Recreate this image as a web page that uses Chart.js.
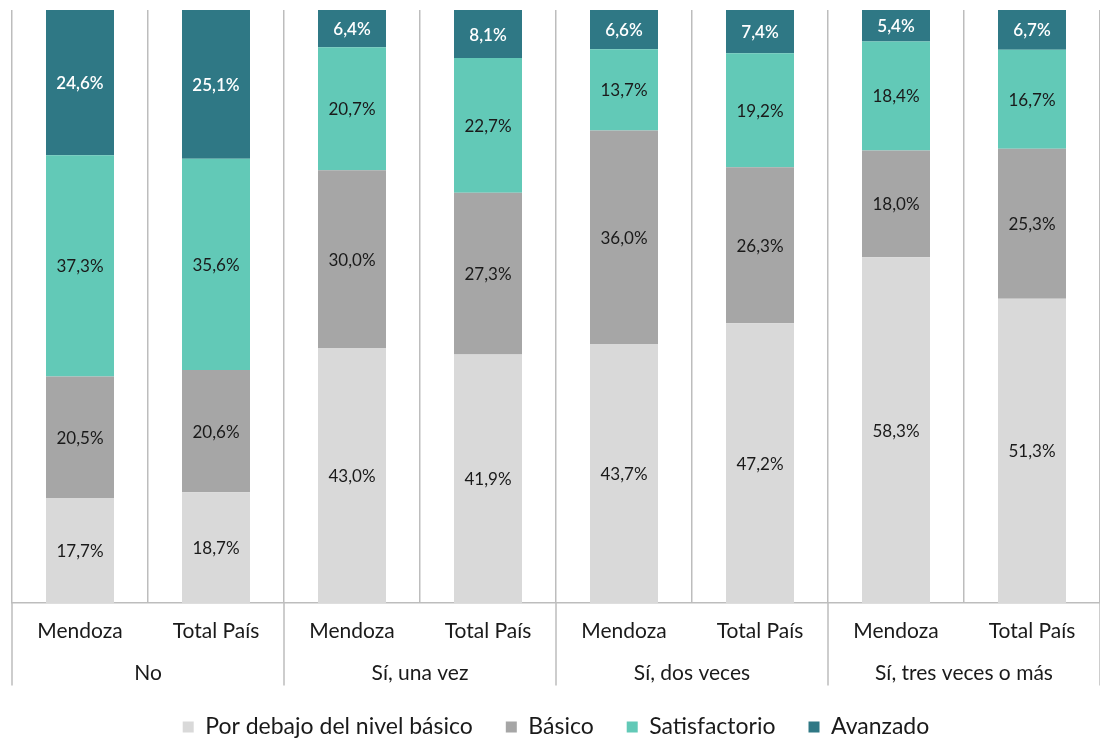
<!DOCTYPE html>
<html>
<head>
<meta charset="utf-8">
<script src="https://cdn.jsdelivr.net/npm/chart.js@4"></script>
<style>
html,body{margin:0;padding:0;background:#fff;}
#wrap{width:1100px;height:738px;}
</style>
</head>
<body>
<div id="wrap"><canvas id="c" width="1100" height="738"></canvas></div>
<script>
const subLabels = ["Mendoza","Total País","Mendoza","Total País","Mendoza","Total País","Mendoza","Total País"];
const groupLabels = ["No","Sí, una vez","Sí, dos veces","Sí, tres veces o más"];
const seriesNames = ["Por debajo del nivel básico","Básico","Satisfactorio","Avanzado"];
const porDebajo = [17.7,18.7,43.0,41.9,43.7,47.2,58.3,51.3];
const basico = [20.5,20.6,30.0,27.3,36.0,26.3,18.0,25.3];
const satisfactorio = [37.3,35.6,20.7,22.7,13.7,19.2,18.4,16.7];
const avanzado = [24.6,25.1,6.4,8.1,6.6,7.4,5.4,6.7];

const colors = ["#d9d9d9","#a6a6a6","#62c9b7","#2f7885"];
const labelColors = ["#1a1a1a","#1a1a1a","#1a1a1a","#ffffff"];
const FONT = "Lato, 'Open Sans', sans-serif";
const AXIS_FONT_SIZE = 21;

const valueLabels = {
  id:'valueLabels',
  afterDatasetsDraw(chart){
    const ctx = chart.ctx;
    ctx.save();
    ctx.textAlign='center';
    ctx.textBaseline='middle';
    chart.data.datasets.forEach((ds,di)=>{
      const meta = chart.getDatasetMeta(di);
      meta.data.forEach((bar,i)=>{
        const v = ds.data[i];
        const y = (bar.y + bar.base)/2;
        ctx.font = (di===3? "600 ":"")+"17px "+FONT;
        ctx.fillStyle = labelColors[di];
        ctx.fillText(v.toFixed(1).replace('.',',')+'%', bar.x, y+1);
      });
    });
    ctx.restore();
  }
};

const groupLines = {
  id:'groupLines',
  afterDraw(chart){
    const xs = chart.scales.x, x2 = chart.scales.x2;
    const ctx = chart.ctx;
    const step = xs.getPixelForValue(1) - xs.getPixelForValue(0);
    const endY = x2.top + AXIS_FONT_SIZE*1.2;
    ctx.save();
    ctx.strokeStyle='#bdbdbd';
    ctx.lineWidth=1.5;
    for(let g=0; g<=groupLabels.length; g++){
      const idx = g*2;
      const px = xs.getPixelForValue(0) + (idx-0.5)*step;
      ctx.beginPath();
      ctx.moveTo(px, chart.chartArea.bottom);
      ctx.lineTo(px, endY);
      ctx.stroke();
    }
    ctx.restore();
  }
};

new Chart(document.getElementById('c'),{
  type:'bar',
  data:{
    labels: subLabels,
    datasets:[
      {label:seriesNames[0], data:porDebajo, backgroundColor:colors[0]},
      {label:seriesNames[1], data:basico, backgroundColor:colors[1]},
      {label:seriesNames[2], data:satisfactorio, backgroundColor:colors[2]},
      {label:seriesNames[3], data:avanzado, backgroundColor:colors[3]}
    ]
  },
  options:{
    responsive:false,
    animation:false,
    maintainAspectRatio:false,
    layout:{padding:{top:10,left:12,right:0,bottom:-10.5}},
    datasets:{bar:{categoryPercentage:1.0, barPercentage:0.5}},
    scales:{
      x:{
        stacked:true,
        offset:true,
        grid:{offset:true, display:true, color:'#bdbdbd', lineWidth:1.5, drawTicks:false},
        border:{display:true, color:'#bdbdbd', width:1.5},
        ticks:{color:'#1a1a1a', font:{family:FONT, size:AXIS_FONT_SIZE}, padding:16, maxRotation:0}
      },
      x2:{
        type:'category',
        labels:groupLabels,
        position:'bottom',
        offset:true,
        clip:false,
        grid:{display:false, drawTicks:false},
        border:{display:false},
        ticks:{color:'#1a1a1a', font:{family:FONT, size:AXIS_FONT_SIZE}, padding:0, maxRotation:0},
        afterFit(scale){ scale.height -= 3; }
      },
      y:{
        stacked:true, min:0, max:100, display:false
      }
    },
    plugins:{
      legend:{
        position:'bottom',
        labels:{font:{family:FONT,size:23}, color:'#1a1a1a', boxWidth:11, boxHeight:11, padding:33, useBorderRadius:false}
      },
      tooltip:{enabled:false}
    }
  },
  plugins:[valueLabels, groupLines]
});
</script>
</body>
</html>
